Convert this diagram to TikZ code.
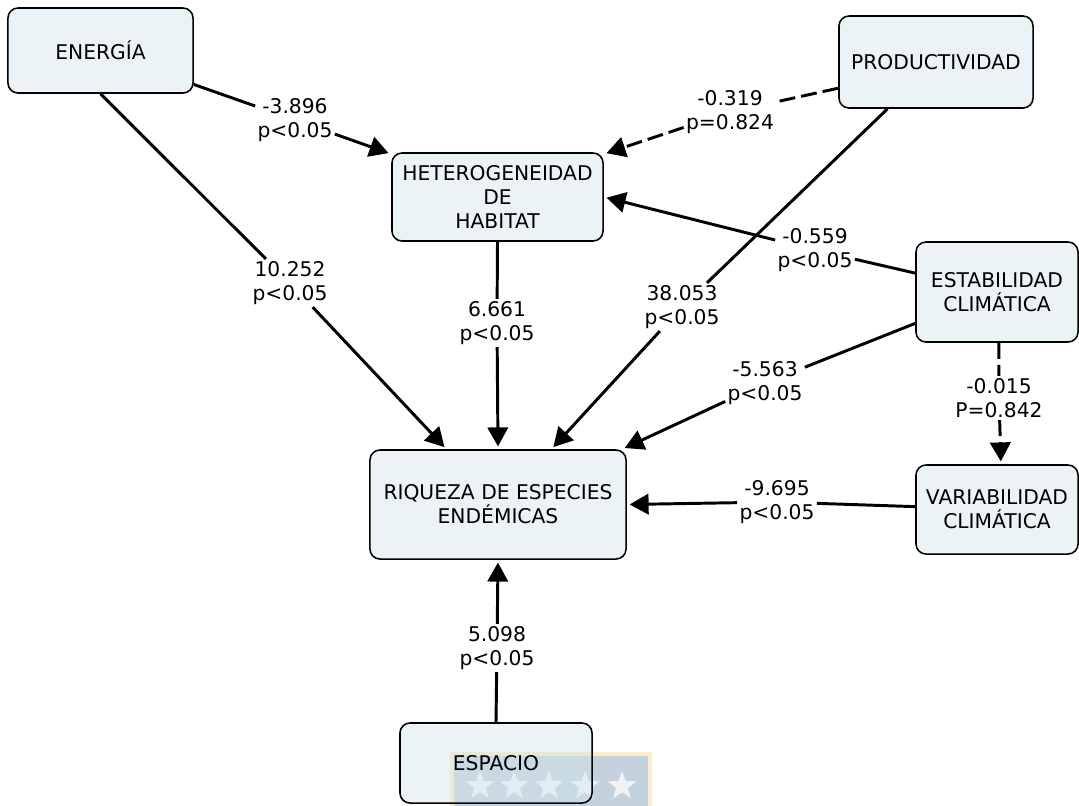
\documentclass[tikz,border=0pt]{standalone}
\usepackage{fontspec}
\setmainfont{DejaVu Sans}
\usetikzlibrary{arrows.meta,shapes.geometric}
\definecolor{boxfill}{RGB}{235,243,246}
\definecolor{espfill}{RGB}{211,228,235}
\definecolor{wmfill}{RGB}{196,210,222}
\definecolor{wmedge}{RGB}{252,238,204}

\begin{document}
\begin{tikzpicture}[x=0.025cm,y=-0.025cm,
  font=\fontsize{14.4}{17.2}\selectfont,
  concept/.style={draw,rounded corners=2.5mm,fill=boxfill,line width=1.1pt,
    align=center,inner sep=2pt},
  lbl/.style={align=center,inner sep=1.5pt},
  link/.style={line width=2.1pt},
  dlink/.style={link,dash pattern=on 0.4cm off 0.15cm},
  arr/.style={link,-{Triangle[length=13.5pt,width=14.5pt]},shorten >=2pt},
  darr/.style={dlink,-{Triangle[length=13.5pt,width=14.5pt]},shorten >=2pt}]
  \useasboundingbox (0,0) rectangle (1079,805);

  % watermark behind the bottom box
  \draw[wmedge,line width=3pt,fill=wmfill] (452,754) rectangle (650,815);
  \foreach \sx in {480,514,549,585,622}
    \node[star,star points=5,star point ratio=2.4,fill=white,fill opacity=0.75,
      minimum size=0.75cm,inner sep=0pt] (st\sx) at (\sx,786) {};

  % concepts
  \node[concept,minimum width=4.625cm,minimum height=2.125cm] (ene) at (100.5,50.5) {ENERGÍA};
  \node[concept,minimum width=4.85cm,minimum height=2.3cm] (pro) at (936,62) {PRODUCTIVIDAD};
  \node[concept,minimum width=5.275cm,minimum height=2.2cm] (het) at (497.5,197) {HETEROGENEIDAD\\DE\\HABITAT};
  \node[concept,minimum width=4.05cm,minimum height=2.5cm] (est) at (997,292) {ESTABILIDAD\\CLIMÁTICA};
  \node[concept,minimum width=6.4cm,minimum height=2.725cm] (riq) at (498,504.5) {RIQUEZA DE ESPECIES\\ENDÉMICAS};
  \node[concept,minimum width=4.05cm,minimum height=2.225cm] (var) at (997,509.5) {VARIABILIDAD\\CLIMÁTICA};
  \node[concept,minimum width=4.8cm,minimum height=2cm,fill=espfill,fill opacity=0.45,text opacity=1] (esp) at (496,763) {ESPACIO};

  % link labels
  \node[lbl] (l1) at (295,120) {-3.896\\p<0.05};
  \node[lbl] (l2) at (290,283) {10.252\\p<0.05};
  \node[lbl] (l3) at (730,112) {-0.319\\p=0.824};
  \node[lbl] (l4) at (682,307) {38.053\\p<0.05};
  \node[lbl] (l5) at (815,250) {-0.559\\p<0.05};
  \node[lbl] (l6) at (765,383) {-5.563\\p<0.05};
  \node[lbl] (l7) at (999,398) {-0.015\\P=0.842};
  \node[lbl] (l8) at (777,502) {-9.695\\p<0.05};
  \node[lbl] (l9) at (497,323) {6.661\\p<0.05};
  \node[lbl] (l10) at (497,648) {5.098\\p<0.05};

  % links
  \draw[link] (ene.-20) -- (l1);
  \draw[arr] (l1) -- (het.158);
  \draw[link] (ene.south) -- (l2);
  \draw[arr] (l2) -- (riq.133);
  \draw[dlink] (pro.195) -- (l3);
  \draw[darr] (l3) -- (het.22);
  \draw[link] (pro.224) -- (l4);
  \draw[arr] (l4) -- (riq.46);
  \draw[link] (est.167) -- (l5);
  \draw[arr] (l5) -- (het.east);
  \draw[link] (est.201) -- (l6);
  \draw[arr] (l6) -- (riq.24);
  \draw[dlink] (est.-88) -- (l7);
  \draw[darr] (l7) -- (var.85);
  \draw[link] (var.178) -- (l8);
  \draw[arr] (l8) -- (riq.east);
  \draw[link] (het.south) -- (l9);
  \draw[arr] (l9) -- (riq.north);
  \draw[link] (esp.north) -- (l10);
  \draw[arr] (l10) -- (riq.south);
\end{tikzpicture}
\end{document}
